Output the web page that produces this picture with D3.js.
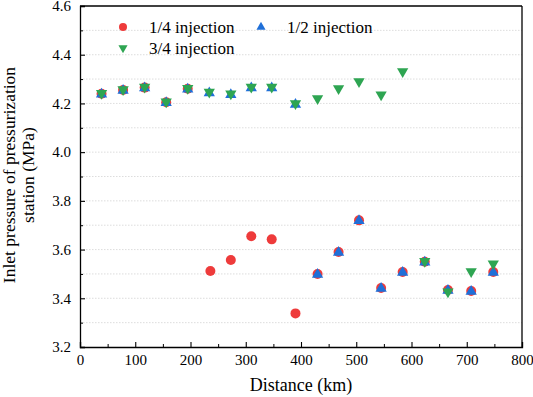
<!DOCTYPE html>
<html>
<head>
<meta charset="utf-8">
<script src="https://cdn.jsdelivr.net/npm/d3@7"></script>
<style>
  body { margin: 0; background: #fff; }
  svg text { font-family: "Liberation Serif", "Times New Roman", serif; fill: #000; }
</style>
</head>
<body>
<svg width="533" height="397"></svg>
<script>
// distances (km) and inlet pressures (MPa) for each injection case
const quarterX = [39, 78, 117, 156, 195, 236, 273, 310, 347, 390, 430, 468, 505, 545, 584, 624, 666, 708, 748];
const quarterY = [4.24, 4.255, 4.265, 4.205, 4.26, 3.512, 3.557, 3.655, 3.642, 3.338, 3.50, 3.59, 3.72, 3.442, 3.508, 3.55, 3.434, 3.43, 3.508];

const halfX = [39, 78, 117, 156, 195, 234, 273, 310, 347, 390, 430, 468, 505, 545, 584, 624, 666, 708, 748];
const halfY = [4.24, 4.255, 4.265, 4.205, 4.26, 4.245, 4.238, 4.265, 4.265, 4.198, 3.50, 3.59, 3.72, 3.442, 3.508, 3.55, 3.434, 3.43, 3.508];

const threeQX = [39, 78, 117, 156, 195, 234, 273, 310, 347, 390, 430, 468, 505, 545, 584, 624, 666, 708, 748];
const threeQY = [4.24, 4.255, 4.265, 4.205, 4.26, 4.245, 4.238, 4.265, 4.265, 4.198, 4.218, 4.259, 4.288, 4.234, 4.329, 3.55, 3.425, 3.508, 3.54];

const xTicks = [0, 100, 200, 300, 400, 500, 600, 700, 800];
const yTicks = [3.2, 3.4, 3.6, 3.8, 4.0, 4.2, 4.4, 4.6];

const svg = d3.select("svg");
const margin = {top: 6, right: 11, bottom: 50, left: 80};
const width = 533 - margin.left - margin.right,
      height = 397 - margin.top - margin.bottom;

const g = svg.append("g")
    .attr("transform", "translate(" + margin.left + "," + margin.top + ")");

const x = d3.scaleLinear().domain([0, 800]).range([0, width]);
const y = d3.scaleLinear().domain([3.2, 4.6]).range([height, 0]);

// dotted horizontal grid
g.selectAll(".grid")
  .data(d3.range(3.3, 4.55, 0.1))
  .enter().append("line")
    .attr("x1", 0).attr("x2", width)
    .attr("y1", d => y(d)).attr("y2", d => y(d))
    .attr("stroke", "#d4d4d4")
    .attr("stroke-width", 0.8)
    .attr("stroke-dasharray", "1.5,1.5");

// minor ticks
g.append("g")
  .attr("transform", "translate(0," + height + ")")
  .call(d3.axisBottom(x).tickValues(d3.range(50, 800, 100)).tickSize(-3).tickFormat(""))
  .call(a => a.select(".domain").remove());
g.append("g")
  .call(d3.axisLeft(y).tickValues(d3.range(3.3, 4.6, 0.2)).tickSize(-3).tickFormat(""))
  .call(a => a.select(".domain").remove());

// major axes
const xAxis = g.append("g")
  .attr("transform", "translate(0," + height + ")")
  .call(d3.axisBottom(x).tickValues(xTicks).tickSize(-5).tickPadding(7).tickFormat(d3.format("d")));
const yAxis = g.append("g")
  .call(d3.axisLeft(y).tickValues(yTicks).tickSize(-5).tickPadding(9).tickFormat(d3.format(".1f")));

[xAxis, yAxis].forEach(a => {
  a.attr("font-family", null).attr("font-size", null);
  a.selectAll("text").style("font-size", "15px");
  a.selectAll("line").attr("stroke", "#000").attr("stroke-width", 1.1);
  a.select(".domain").attr("stroke", "#000").attr("stroke-width", 1.3);
});

// top and right frame
g.append("line").attr("x1", 0).attr("x2", width).attr("y1", 0).attr("y2", 0)
  .attr("stroke", "#000").attr("stroke-width", 1.3);
g.append("line").attr("x1", width).attr("x2", width).attr("y1", 0).attr("y2", height)
  .attr("stroke", "#000").attr("stroke-width", 1.3);

const red = "#ee3b3b", blue = "#1f6fd8", green = "#2ea552";
const tri = d3.symbol().type(d3.symbolTriangle).size(55);
const triSmall = d3.symbol().type(d3.symbolTriangle).size(36);

// 1/4 injection
g.selectAll(".q")
  .data(quarterX.map((d, i) => [d, quarterY[i]]))
  .enter().append("circle")
    .attr("cx", d => x(d[0]))
    .attr("cy", d => y(d[1]))
    .attr("r", 5)
    .attr("fill", red);

// 1/2 injection
g.selectAll(".h")
  .data(halfX.map((d, i) => [d, halfY[i]]))
  .enter().append("path")
    .attr("d", tri)
    .attr("transform", d => "translate(" + x(d[0]) + "," + (y(d[1]) + 0.5) + ")")
    .attr("fill", blue);

// 3/4 injection
g.selectAll(".t")
  .data(threeQX.map((d, i) => [d, threeQY[i]]))
  .enter().append("path")
    .attr("d", tri)
    .attr("transform", d => "translate(" + x(d[0]) + "," + (y(d[1]) - 0.5) + ") rotate(180)")
    .attr("fill", green);

// legend
const legendItems = [
  {label: "1/4 injection", color: red, shape: "circle", lx: 43, ly: 21},
  {label: "1/2 injection", color: blue, shape: "up", lx: 181, ly: 21},
  {label: "3/4 injection", color: green, shape: "down", lx: 43, ly: 42}
];
const legend = g.selectAll(".legend")
  .data(legendItems)
  .enter().append("g")
    .attr("transform", d => "translate(" + d.lx + "," + d.ly + ")");
legend.filter(d => d.shape === "circle").append("circle")
  .attr("r", 4).attr("fill", d => d.color);
legend.filter(d => d.shape === "up").append("path")
  .attr("d", triSmall).attr("fill", d => d.color);
legend.filter(d => d.shape === "down").append("path")
  .attr("d", triSmall).attr("transform", "rotate(180)").attr("fill", d => d.color);
legend.append("text")
  .attr("x", 26)
  .attr("y", 5.5)
  .style("font-size", "17px")
  .text(d => d.label);

// axis titles
svg.append("text")
  .attr("x", margin.left + width / 2)
  .attr("y", 391)
  .attr("text-anchor", "middle")
  .style("font-size", "18px")
  .text("Distance (km)");

const yt = svg.append("text")
  .attr("transform", "translate(0,175) rotate(-90)")
  .attr("text-anchor", "middle")
  .style("font-size", "17.5px");
yt.append("tspan").attr("x", 0).attr("y", 15).text("Inlet pressure of pressurization");
yt.append("tspan").attr("x", 0).attr("y", 34).text("station (MPa)");
</script>
</body>
</html>
